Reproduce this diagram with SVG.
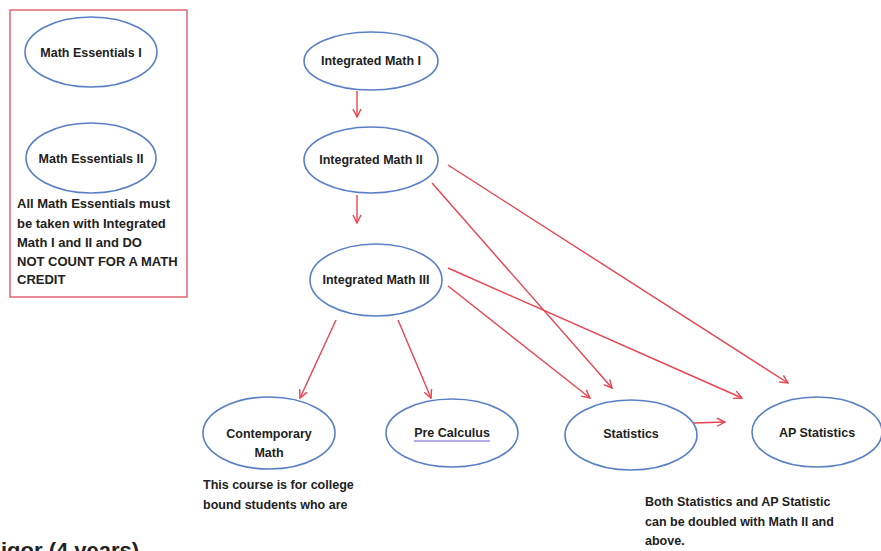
<svg xmlns="http://www.w3.org/2000/svg" width="881" height="551" viewBox="0 0 881 551">
<defs>
<style>
.node{fill:#fff;stroke:#5a7fc6;stroke-width:1.6}
.lbl{font-family:"Liberation Sans",Arial,sans-serif;font-weight:bold;font-size:12.5px;fill:#222;text-anchor:middle}
.note{font-family:"Liberation Sans",Arial,sans-serif;font-weight:bold;font-size:12.5px;fill:#222}
.edge{stroke:#e8434f;stroke-width:1.4;fill:none;marker-end:url(#ah)}
</style>
<marker id="ah" viewBox="0 0 10 10" refX="9" refY="5" markerWidth="10" markerHeight="10" orient="auto" markerUnits="userSpaceOnUse">
<path d="M1,1 L9,5 L1,9" fill="none" stroke="#e8434f" stroke-width="1.4"/>
</marker>
</defs>
<rect width="881" height="551" fill="#fff"/>
<rect x="10" y="10" width="177" height="287" fill="none" stroke="#e06672" stroke-width="1.5"/>
<g id="connectors">
<line class="edge" x1="357" y1="91" x2="357" y2="117"/>
<line class="edge" x1="357" y1="195" x2="357" y2="223"/>
<line class="edge" x1="448" y1="165" x2="788" y2="383"/>
<line class="edge" x1="432" y1="183" x2="612" y2="388"/>
<line class="edge" x1="448" y1="268" x2="742" y2="398"/>
<line class="edge" x1="448" y1="286" x2="590" y2="398"/>
<line class="edge" x1="336" y1="320" x2="300" y2="398"/>
<line class="edge" x1="398" y1="320" x2="431" y2="398"/>
<line class="edge" x1="694" y1="423" x2="725" y2="422"/>
</g>
<g id="me1"><ellipse class="node" cx="91" cy="52" rx="66" ry="35"/><text class="lbl" x="91" y="57">Math Essentials I</text></g>
<g id="me2"><ellipse class="node" cx="91" cy="158" rx="65" ry="35"/><text class="lbl" x="91" y="163">Math Essentials II</text></g>
<g id="note1" style="font-size:13px"><text class="note" x="17" y="208" style="font-size:13px">All Math Essentials must</text><text class="note" x="17" y="228" style="font-size:13px">be taken with Integrated</text><text class="note" x="17" y="247" style="font-size:13px">Math I and II and DO</text><text class="note" x="17" y="266" style="font-size:13px">NOT COUNT FOR A MATH</text><text class="note" x="17" y="284" style="font-size:13px">CREDIT</text></g>
<g id="im1"><ellipse class="node" cx="371" cy="61" rx="67" ry="29"/><text class="lbl" x="371" y="65">Integrated Math I</text></g>
<g id="im2"><ellipse class="node" cx="371" cy="160" rx="67" ry="33"/><text class="lbl" x="371" y="164">Integrated Math II</text></g>
<g id="im3"><ellipse class="node" cx="376" cy="280" rx="66" ry="36"/><text class="lbl" x="376" y="284">Integrated Math III</text></g>
<g id="cm"><ellipse class="node" cx="269" cy="433" rx="66" ry="36"/><text class="lbl" x="269" y="438">Contemporary</text><text class="lbl" x="269" y="457">Math</text></g>
<g id="pc"><ellipse class="node" cx="452" cy="433" rx="66" ry="34"/><text class="lbl" x="452" y="437">Pre Calculus</text><line x1="414" y1="441" x2="490" y2="441" stroke="#6a5acd" stroke-width="1"/></g>
<g id="st"><ellipse class="node" cx="631" cy="435" rx="66" ry="35"/><text class="lbl" x="631" y="438">Statistics</text></g>
<g id="ap"><ellipse class="node" cx="817" cy="432" rx="65" ry="35"/><text class="lbl" x="817" y="437">AP Statistics</text></g>
<g id="note2"><text class="note" x="203" y="489">This course is for college</text><text class="note" x="203" y="509">bound students who are</text></g>
<g id="note3"><text class="note" x="645" y="506">Both Statistics and AP Statistic</text><text class="note" x="645" y="526">can be doubled with Math II and</text><text class="note" x="645" y="545">above.</text></g>
<text x="1" y="558" font-family="Liberation Sans,Arial,sans-serif" font-weight="bold" font-size="22" fill="#222">igor (4 years)</text>
</svg>
